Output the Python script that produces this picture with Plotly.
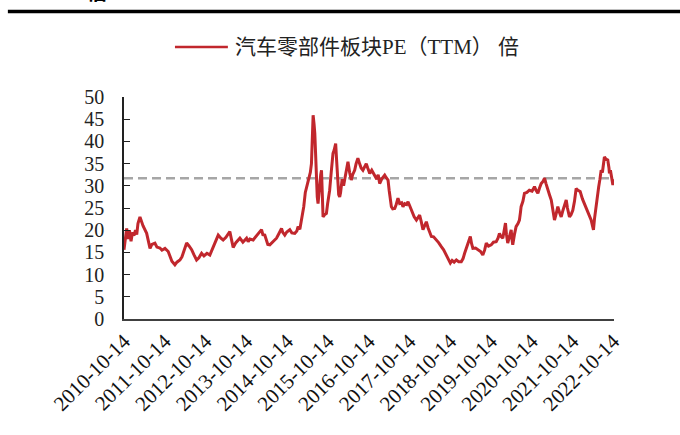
import plotly.graph_objects as go

# 汽车零部件板块 PE(TTM) readings
dates = [
    "2010-10-14", "2010-10-27", "2010-11-07", "2010-11-19", "2010-12-02", "2010-12-16", "2010-12-29",
    "2011-01-11", "2011-01-25", "2011-02-05", "2011-02-16", "2011-03-06", "2011-03-20", "2011-04-02",
    "2011-05-05", "2011-05-21", "2011-06-04", "2011-06-21", "2011-07-18", "2011-08-05", "2011-09-01",
    "2011-09-19", "2011-10-16", "2011-11-14", "2011-11-30", "2011-12-17",
    "2012-01-13", "2012-01-31", "2012-02-27", "2012-03-16", "2012-03-27", "2012-04-12", "2012-04-27",
    "2012-05-17", "2012-06-11", "2012-07-01", "2012-07-25", "2012-08-15", "2012-09-08", "2012-09-29",
    "2012-10-26", "2012-11-21", "2012-12-21",
    "2013-01-14", "2013-02-04", "2013-02-28", "2013-03-20", "2013-04-14", "2013-05-01", "2013-05-19",
    "2013-06-02", "2013-06-18", "2013-07-12", "2013-08-02", "2013-08-17", "2013-09-13", "2013-10-16",
    "2013-10-30", "2013-11-14", "2013-12-14",
    "2014-01-13", "2014-02-03", "2014-02-27", "2014-03-11", "2014-03-28", "2014-04-24", "2014-05-12",
    "2014-06-08", "2014-07-11", "2014-08-01", "2014-08-25", "2014-09-05", "2014-09-23", "2014-10-11",
    "2014-11-07", "2014-11-25", "2014-12-22",
    "2015-01-09", "2015-01-20", "2015-02-05", "2015-02-20", "2015-03-03", "2015-03-12", "2015-03-26",
    "2015-04-06", "2015-04-17", "2015-04-29", "2015-05-10", "2015-05-20", "2015-05-27", "2015-06-04",
    "2015-06-12", "2015-06-19", "2015-06-28", "2015-07-04", "2015-07-11", "2015-07-18", "2015-07-26",
    "2015-08-02", "2015-08-11", "2015-08-18", "2015-08-25", "2015-09-01", "2015-09-16", "2015-10-01",
    "2015-10-12", "2015-10-30", "2015-11-13", "2015-11-29", "2015-12-09", "2015-12-23",
    "2016-01-01", "2016-01-12", "2016-01-19", "2016-01-28", "2016-02-05", "2016-02-19", "2016-03-03",
    "2016-03-12", "2016-03-26", "2016-04-11", "2016-04-26", "2016-05-11", "2016-05-23", "2016-06-10",
    "2016-06-23", "2016-07-09", "2016-07-24", "2016-08-07", "2016-08-23", "2016-09-07", "2016-09-22",
    "2016-10-05", "2016-10-23", "2016-11-10", "2016-12-07", "2016-12-25",
    "2017-01-07", "2017-01-20", "2017-02-07", "2017-03-06", "2017-03-20", "2017-04-05", "2017-04-15",
    "2017-04-24", "2017-05-05", "2017-05-17", "2017-06-04", "2017-06-17", "2017-07-03", "2017-07-18",
    "2017-08-05", "2017-08-17", "2017-09-01", "2017-09-19", "2017-10-01", "2017-10-16", "2017-10-31",
    "2017-11-12", "2017-11-25", "2017-12-15", "2017-12-26",
    "2018-01-13", "2018-01-27", "2018-02-12", "2018-02-27", "2018-03-14", "2018-03-30", "2018-04-13",
    "2018-04-28", "2018-05-18", "2018-06-12", "2018-07-02", "2018-07-26", "2018-08-16", "2018-09-09",
    "2018-09-25", "2018-10-15", "2018-10-31", "2018-11-18", "2018-12-08", "2018-12-28",
    "2019-01-21", "2019-02-06", "2019-02-20", "2019-03-05", "2019-03-21", "2019-04-12", "2019-04-23",
    "2019-05-05", "2019-05-29", "2019-06-19", "2019-07-13", "2019-08-02", "2019-08-18", "2019-09-02",
    "2019-09-22", "2019-10-16", "2019-11-05", "2019-11-30", "2019-12-16", "2019-12-29",
    "2020-01-11", "2020-01-28", "2020-02-12", "2020-02-21", "2020-03-01", "2020-03-12", "2020-03-27",
    "2020-04-12", "2020-04-19", "2020-04-26", "2020-05-11", "2020-05-26", "2020-06-12", "2020-06-25",
    "2020-07-04", "2020-07-10", "2020-07-26", "2020-08-09", "2020-08-31", "2020-09-22", "2020-10-16",
    "2020-11-07", "2020-11-21", "2020-12-07", "2020-12-22",
    "2021-01-06", "2021-01-22", "2021-02-05", "2021-02-18", "2021-03-06", "2021-03-21", "2021-04-06",
    "2021-04-22", "2021-05-05", "2021-05-18", "2021-06-04", "2021-06-19", "2021-07-04", "2021-07-20",
    "2021-08-02", "2021-08-18", "2021-08-29", "2021-09-16", "2021-09-30", "2021-10-16", "2021-10-31",
    "2021-11-15", "2021-12-01", "2021-12-21",
    "2022-01-11", "2022-01-28", "2022-02-11", "2022-02-27", "2022-03-14", "2022-03-29", "2022-04-10",
    "2022-04-19", "2022-04-28", "2022-05-13", "2022-05-25", "2022-06-05", "2022-06-16", "2022-06-27",
    "2022-07-08", "2022-07-17", "2022-07-26", "2022-08-09", "2022-08-25", "2022-09-05", "2022-09-09",
    "2022-09-18", "2022-10-03", "2022-10-10", "2022-10-19",
]

pe_ttm = [
    15.6, 18.5, 20.4, 18.0, 20.0, 17.5, 19.5,
    18.8, 20.0, 19.0, 21.5, 23.0, 22.0, 21.0,
    19.3, 17.5, 15.9, 16.8, 17.1, 16.2, 16.0,
    15.5, 15.9, 15.2, 14.3, 13.0,
    12.2, 12.8, 13.3, 14.0, 14.8, 16.0, 17.1,
    16.5, 15.6, 14.5, 13.3, 13.8, 14.8, 14.2,
    14.8, 14.4, 16.3,
    17.5, 18.9, 18.2, 17.8, 18.4, 19.0, 19.7,
    18.0, 16.1, 17.2, 17.8, 18.2, 17.3, 18.2,
    17.4, 18.0, 17.8,
    18.6, 19.4, 20.1, 19.0, 18.9, 16.8, 16.7,
    17.4, 18.2, 19.2, 20.4, 19.5, 18.9, 19.6,
    20.1, 19.4, 19.3,
    19.8, 20.8, 20.2, 22.3, 23.5, 25.3, 28.5,
    29.8, 30.5, 31.7, 33.0, 35.0, 40.0, 45.9,
    44.0, 41.8, 36.0, 31.3, 27.5, 26.0, 28.5,
    30.0, 32.5, 33.5, 28.0, 23.0, 23.5, 23.8,
    26.0, 29.0, 33.0, 37.3, 38.0, 39.5,
    35.5, 31.3, 28.0, 27.5, 28.5, 31.5, 30.0,
    31.3, 33.0, 35.4, 33.0, 31.3, 32.5, 33.5,
    35.0, 36.2, 35.0, 34.0, 33.5, 34.2, 35.0,
    34.0, 32.8, 33.5, 32.4, 31.5,
    32.5, 30.5, 31.5, 32.4, 31.8, 31.3, 29.0,
    27.0, 25.3, 24.8, 24.9, 25.8, 27.2, 26.0,
    26.2, 25.3, 26.0, 25.8, 26.4, 25.5, 24.5,
    23.8, 23.0, 22.3, 22.8,
    23.4, 22.0, 20.1, 21.0, 21.9, 20.5, 19.6,
    18.6, 18.5, 17.8, 17.2, 16.3, 15.6, 14.4,
    13.5, 12.6, 13.2, 12.8, 13.3, 12.9,
    12.9, 13.6, 14.8, 15.8, 17.1, 18.6, 17.0,
    15.9, 16.0, 15.6, 15.2, 14.4, 15.5, 17.1,
    16.4, 16.7, 17.3, 17.4, 18.2, 19.3,
    18.6, 18.2, 20.0, 21.6, 19.0, 17.1, 18.5,
    20.1, 18.0, 16.7, 19.0, 20.8, 21.5, 22.3,
    24.0, 25.3, 26.5, 28.3, 28.5, 29.0, 28.8,
    29.8, 29.0, 28.3, 29.5,
    30.5, 31.0, 31.7, 30.5, 29.0, 28.0, 26.8,
    24.5, 22.3, 23.5, 25.3, 24.0, 23.0, 24.5,
    25.5, 26.8, 25.0, 23.0, 23.5, 24.5, 26.5,
    29.4, 29.0, 28.7,
    27.0, 26.0, 25.0, 23.8, 23.0, 22.3, 21.0,
    20.1, 22.5, 26.0, 28.0, 29.8, 31.5, 33.5,
    33.0, 35.0, 36.5, 36.0, 35.8, 34.0, 32.8,
    33.5, 31.7, 30.2, 31.5,
]

# reference level drawn as a dashed line
pe_ref = 31.7

tick_dates = [f"{y}-10-14" for y in range(2010, 2023)]
tick_labels = tick_dates

y_ticks = list(range(0, 51, 5))

RED = "#C1272D"
SERIF = "Liberation Serif, Times New Roman, Noto Sans CJK SC, serif"
x_range = ["2010-10-14", "2022-10-20"]

fig = go.Figure()

fig.add_trace(go.Scatter(
    x=x_range, y=[pe_ref, pe_ref], mode="lines",
    line=dict(color="#A6A6A6", width=2.6, dash="9px,5px"),
    showlegend=False, hoverinfo="skip",
))

fig.add_trace(go.Scatter(
    x=dates, y=pe_ttm, mode="lines",
    line=dict(color=RED, width=3.0),
    name="汽车零部件板块PE（TTM） 倍", showlegend=False,
))

fig.update_layout(
    width=680, height=435,
    margin=dict(l=124, r=66, t=97, b=116),
    paper_bgcolor="white", plot_bgcolor="white",
    font=dict(family=SERIF, color="#222222"),
    xaxis=dict(
        type="date", range=x_range,
        tickmode="array", tickvals=tick_dates, ticktext=tick_labels,
        tickangle=-45, ticks="", showgrid=False, zeroline=False,
        showline=True, linecolor="#404040", linewidth=1.6,
        tickfont=dict(family=SERIF, size=21, color="#111111"),
        automargin=False,
    ),
    yaxis=dict(
        range=[0, 50], tickmode="array", tickvals=y_ticks,
        ticks="inside", ticklen=6, tickwidth=1.4, tickcolor="#222222",
        ticklabelstandoff=14,
        showgrid=False, zeroline=False,
        showline=True, linecolor="#222222", linewidth=1.6,
        tickfont=dict(family=SERIF, size=20, color="#222222"),
        automargin=False,
    ),
    shapes=[
        # heading rule across the top
        dict(type="line", xref="paper", yref="paper",
             x0=-0.237, x1=1.14, y0=1.385, y1=1.385,
             line=dict(color="#000000", width=3.5)),
        # legend key
        dict(type="line", xref="paper", yref="paper",
             x0=0.104, x1=0.212, y0=1.225, y1=1.225,
             line=dict(color=RED, width=2.6)),
    ],
    annotations=[
        dict(text="汽车零部件板块PE（TTM） 倍", xref="paper", yref="paper",
             x=0.222, y=1.225, xanchor="left", yanchor="middle", showarrow=False,
             font=dict(family=SERIF, size=21, color="#222222")),
        dict(text="<b>估</b>", xref="paper", yref="paper",
             x=-0.08, y=1.40, xanchor="left", yanchor="bottom", showarrow=False,
             font=dict(family="Noto Sans CJK SC", size=20, color="#000000")),
    ],
)

fig.write_html("out.html")
